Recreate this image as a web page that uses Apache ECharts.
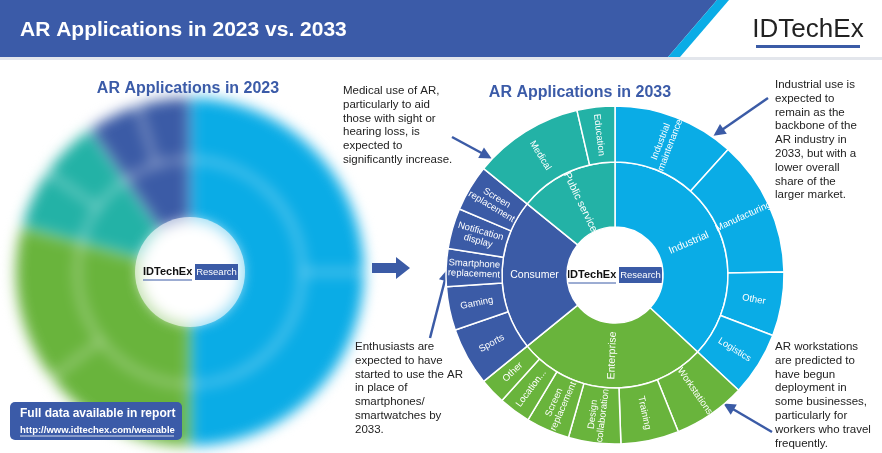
<!DOCTYPE html>
<html><head><meta charset="utf-8">
<script src="https://cdn.jsdelivr.net/npm/echarts@6/dist/echarts.min.js"></script>
<style>
body{margin:0;width:882px;height:453px;overflow:hidden;background:#fff;font-family:Arial,"Liberation Sans",sans-serif}
#left{position:absolute;left:0;top:0;width:882px;height:453px;filter:blur(7px)}
#main{position:absolute;left:0;top:0;width:882px;height:453px}
</style></head>
<body>
<div id="left"></div>
<div id="main"></div>
<script>
var groups2033 = ['Industrial', 'Enterprise', 'Consumer', 'Public service'];
var colors = ['#0aace6', '#69b43c', '#3b5ba6', '#23b2a6'];
var industrialKids = ['Industrial\nmaintenance', 'Manufacturing', 'Other', 'Logistics'];
var industrialVals = [42, 47, 22, 22];
var enterpriseKids = ['Workstations', 'Training', 'Design\ncollaboration', 'Screen\nreplacement', 'Location...', 'Other'];
var enterpriseVals = [25, 20, 18, 15, 11, 9];
var consumerKids = ['Sports', 'Gaming', 'Smartphone\nreplacement', 'Notification\ndisplay', 'Screen\nreplacement'];
var consumerVals = [20, 15, 13, 14, 16];
var publicKids = ['Medical', 'Education'];
var publicVals = [38, 13];

// 2023 data (blurred in source)
var groups2023 = ['Industrial', 'Enterprise', 'Public service', 'Consumer'];
var vals2023 = [180, 105, 40, 35];
var colors2023 = ['#0aace6', '#69b43c', '#23b2a6', '#3b5ba6'];

function kids(names, vals, c) {
    return names.map(function (n, i) { return { name: n, value: vals[i], itemStyle: { color: c } }; });
}
var kidSets = [[industrialKids, industrialVals], [enterpriseKids, enterpriseVals], [consumerKids, consumerVals], [publicKids, publicVals]];
var data2033 = groups2033.map(function (g, i) {
    return { name: g, itemStyle: { color: colors[i] }, children: kids(kidSets[i][0], kidSets[i][1], colors[i]) };
});

var left = echarts.init(document.getElementById('left'));
left.setOption({
    series: [{
        type: 'sunburst', center: [190, 272], radius: [50, 175],
        label: { show: false }, sort: null,
        itemStyle: { borderColor: '#fff', borderWidth: 2 },
        data: groups2023.map(function (g, i) {
            return { name: g, value: vals2023[i], itemStyle: { color: colors2023[i] },
                children: kids(['a', 'b'], [vals2023[i] * 0.5, vals2023[i] * 0.5], colors2023[i]) };
        })
    }]
});

var arrowColor = '#3b5ba6';
function arrow(x1, y1, x2, y2) {
    var a = Math.atan2(y2 - y1, x2 - x1), L = 9;
    return [{ type: 'line', shape: { x1: x1, y1: y1, x2: x2, y2: y2 }, style: { stroke: arrowColor, lineWidth: 2.5 } },
        { type: 'polygon', shape: { points: [[x2 + Math.cos(a) * 3, y2 + Math.sin(a) * 3],
            [x2 - Math.cos(a) * L + Math.sin(a) * 6, y2 - Math.sin(a) * L - Math.cos(a) * 6],
            [x2 - Math.cos(a) * L - Math.sin(a) * 6, y2 - Math.sin(a) * L + Math.cos(a) * 6]] },
            style: { fill: arrowColor } }];
}
function note(x, y, txt) {
    return { type: 'text', left: x, top: y, style: { text: txt, fill: '#222', font: '11.5px Arial', lineHeight: 13.8 } };
}
function logo(cx, cy) {
    return [
        { type: 'text', x: cx - 47, y: cy, style: { text: 'IDTechEx', fill: '#111', font: 'bold 11px Arial', verticalAlign: 'middle' } },
        { type: 'line', shape: { x1: cx - 47, y1: cy + 8, x2: cx + 2, y2: cy + 8 }, style: { stroke: '#3b5ba6', lineWidth: 1 } },
        { type: 'rect', shape: { x: cx + 5, y: cy - 8, width: 43, height: 16 }, style: { fill: '#3b5ba6' } },
        { type: 'text', x: cx + 26.5, y: cy, style: { text: 'Research', fill: '#fff', font: '9.5px Arial', align: 'center', verticalAlign: 'middle' } }
    ];
}

var graphics = [
    { type: 'polygon', shape: { points: [[0, 0], [717, 0], [668, 57], [0, 57]] }, style: { fill: '#3b5ba8' } },
    { type: 'polygon', shape: { points: [[717, 0], [729, 0], [680, 57], [668, 57]] }, style: { fill: '#0aace6' } },
    { type: 'rect', shape: { x: 0, y: 57, width: 882, height: 3 }, style: { fill: '#e3e6ec' } },
    { type: 'text', x: 20, y: 30, style: { text: 'AR Applications in 2023 vs. 2033', fill: '#fff', font: 'bold 21px Arial', verticalAlign: 'middle' } },
    { type: 'text', x: 808, y: 30, style: { text: 'IDTechEx', fill: '#222', font: '26px Arial', align: 'center', verticalAlign: 'middle' } },
    { type: 'rect', shape: { x: 756, y: 45, width: 104, height: 3 }, style: { fill: '#3b5ba6' } },
    { type: 'text', x: 188, y: 89, style: { text: 'AR Applications in 2023', fill: '#3b5ba8', font: 'bold 16px Arial', align: 'center', verticalAlign: 'middle' } },
    { type: 'text', x: 580, y: 93, style: { text: 'AR Applications in 2033', fill: '#3b5ba8', font: 'bold 16px Arial', align: 'center', verticalAlign: 'middle' } },
    note(343, 84, 'Medical use of AR,\nparticularly to aid\nthose with sight or\nhearing loss, is\nexpected to\nsignificantly increase.'),
    note(775, 78, 'Industrial use is\nexpected to\nremain as the\nbackbone of the\nAR industry in\n2033, but with a\nlower overall\nshare of the\nlarger market.'),
    note(355, 340, 'Enthusiasts are\nexpected to have\nstarted to use the AR\nin place of\nsmartphones/\nsmartwatches by\n2033.'),
    note(775, 340, 'AR workstations\nare predicted to\nhave begun\ndeployment in\nsome businesses,\nparticularly for\nworkers who travel\nfrequently.'),
    { type: 'polygon', shape: { points: [[372, 263], [396, 263], [396, 257], [410, 268], [396, 279], [396, 273], [372, 273]] }, style: { fill: '#3b5ba6' } },
    { type: 'rect', shape: { x: 10, y: 402, width: 172, height: 38, r: 5 }, style: { fill: '#3b5ba8' } },
    { type: 'text', x: 20, y: 414, style: { text: 'Full data available in report', fill: '#fff', font: 'bold 12px Arial', verticalAlign: 'middle' } },
    { type: 'text', x: 20, y: 430, style: { text: 'http://www.idtechex.com/wearable', fill: '#fff', font: 'bold 9.5px Arial', verticalAlign: 'middle' } },
    { type: 'line', shape: { x1: 20, y1: 436, x2: 174, y2: 436 }, style: { stroke: '#fff', lineWidth: 0.8 } },
    { type: 'circle', shape: { cx: 190, cy: 272, r: 55 }, style: { fill: '#fff', opacity: 0.6 } }
]
    .concat(arrow(452, 137, 489, 157))
    .concat(arrow(768, 98, 716, 134))
    .concat(arrow(430, 338, 447, 272))
    .concat(arrow(772, 432, 726, 405))
    .concat(logo(190, 272))
    .concat(logo(614, 275));

var chart = echarts.init(document.getElementById('main'));
chart.setOption({
    graphic: graphics,
    series: [{
        type: 'sunburst', center: [615, 275], radius: [48, 169],
        sort: null, nodeClick: false,
        itemStyle: { borderColor: '#fff', borderWidth: 1.5 },
        label: { color: '#fff', fontSize: 9.5, rotate: 'radial', fontFamily: 'Arial' },
        levels: [{}, { r0: 48, r: 113, label: { fontSize: 10.5 } }, { r0: 113, r: 169 }],
        data: data2033,
        z: 1
    }]
});
</script>
</body></html>
